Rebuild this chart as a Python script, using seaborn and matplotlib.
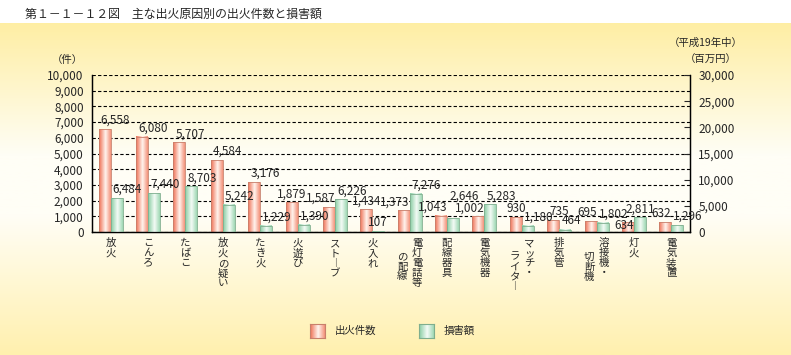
import numpy as np
import pandas as pd
import matplotlib
matplotlib.use('Agg')
import matplotlib.pyplot as plt
from matplotlib.colors import LinearSegmentedColormap
import seaborn as sns

sns.set_style('white')
plt.rcParams['font.family'] = ['Noto Sans CJK JP', 'DejaVu Sans']
plt.rcParams['axes.unicode_minus'] = False

# ---- データ ----
causes = ['放火', 'こんろ', 'たばこ', '放火の疑い', 'たき火', '火遊び', 'ストーブ', '火入れ',
          '電灯電話等の配線', '配線器具', '電気機器', 'マッチ・ライター', '排気管',
          '溶接機・切断機', '灯火', '電気装置']
counts = [6558, 6080, 5707, 4584, 3176, 1879, 1587, 1434, 1373, 1043, 1002, 930, 735, 695, 634, 632]
damages = [6484, 7440, 8703, 5242, 1229, 1390, 6226, 107, 7276, 2646, 5283, 1180, 464, 1802, 2811, 1296]
series_order = ['出火件数', '損害額']
left_ticks = list(range(0, 10001, 1000))
right_ticks = list(range(0, 30001, 5000))

# ラベル配置（見た目の調整用）
count_align = ['left'] * 16
for i in [5, 7, 11]:
    count_align[i] = 'center'
for i in [6, 8, 9, 10, 13, 14, 15]:
    count_align[i] = 'right'
damage_align = ['left'] * 16
for i in [7, 14]:
    damage_align[i] = 'center'
count_dy = [1.5] * 16
count_dy[14] = -7
damage_dy = [1.5] * 16
damage_dy[9] = 11
wrap_at = {'電灯電話等の配線': 5, 'マッチ・ライター': 4, '溶接機・切断機': 4}

df_count = pd.DataFrame({'原因': causes, '系列': series_order[0], '値': counts})
df_damage = pd.DataFrame({'原因': causes, '系列': series_order[1], '値': damages})

orange_cmap = LinearSegmentedColormap.from_list(
    'o', [(0, '#ef7054'), (0.55, '#fff4ee'), (1, '#f4927a')])
green_cmap = LinearSegmentedColormap.from_list(
    'g', [(0, '#88cda2'), (0.55, '#f4fbf6'), (1, '#a0d8b4')])
bg_cmap = LinearSegmentedColormap.from_list(
    'bg', [(0, '#fff0ae'), (0.42, '#fffef6'), (0.6, '#fffef6'), (1, '#feeea4')])

fig = plt.figure(figsize=(7.91, 3.55), dpi=100)
fig.patch.set_facecolor('white')

# 背景グラデーション
bg = fig.add_axes([0, 0, 1, 1], zorder=-10)
bg.imshow(np.linspace(0, 1, 256).reshape(-1, 1), cmap=bg_cmap, origin='lower',
          extent=(0, 1, 0, 332 / 355), aspect='auto')
bg.set_xlim(0, 1)
bg.set_ylim(0, 1)
bg.axis('off')

ax = fig.add_axes([92 / 791, 123 / 355, 598 / 791, 157 / 355])
ax.patch.set_alpha(0)

sns.barplot(data=df_count, x='原因', y='値', hue='系列', hue_order=series_order,
            order=causes, palette=['#f0785a', '#8ccfa6'], width=0.64, gap=0,
            dodge=True, errorbar=None, legend=False, ax=ax)
ax2 = ax.twinx()
sns.barplot(data=df_damage, x='原因', y='値', hue='系列', hue_order=series_order,
            order=causes, palette=['#f0785a', '#8ccfa6'], width=0.64, gap=0,
            dodge=True, errorbar=None, legend=False, ax=ax2)


def shade(a, cmap, edge):
    grad = np.linspace(0, 1, 64).reshape(1, -1)
    for p in list(a.patches):
        x0, w, h = p.get_x(), p.get_width(), p.get_height()
        if not np.isfinite(h) or h == 0:
            continue
        a.imshow(grad, cmap=cmap, extent=(x0, x0 + w, 0, h), aspect='auto',
                 interpolation='bilinear', zorder=2)
        p.set_facecolor('none')
        p.set_edgecolor(edge)
        p.set_linewidth(0.6)
        p.set_zorder(3)


shade(ax, orange_cmap, '#c8806c')
shade(ax2, green_cmap, '#7fae8e')

ax.set_xlim(-0.5, len(causes) - 0.5)
ax2.set_xlim(-0.5, len(causes) - 0.5)
ax.set_ylim(0, 10000)
ax2.set_ylim(0, 30000)

ax.set_yticks(left_ticks)
ax.set_yticklabels([f'{v:,}' for v in left_ticks], fontsize=8.5)
ax2.set_yticks(right_ticks)
ax2.set_yticklabels([f'{v:,}' for v in right_ticks], fontsize=8.5)
ax.tick_params(axis='y', length=0, pad=6)
ax2.tick_params(axis='y', direction='in', length=4, pad=6, width=0.8)

ax.set_xticks(range(len(causes)))
ax.set_xticklabels([''] * len(causes))
ax.set_xticks(np.arange(-0.5, len(causes), 1), minor=True)
ax.tick_params(axis='x', which='major', length=0)
ax.tick_params(axis='x', which='minor', direction='in', length=4, width=0.8)

ax.set_axisbelow(True)
ax.yaxis.grid(True, linestyle=(0, (3, 2)), color='black', linewidth=0.8)
ax.xaxis.grid(False)
for a in (ax, ax2):
    a.set_xlabel('')
    a.set_ylabel('')
    a.spines['top'].set_visible(False)
    for s in ('left', 'right', 'bottom'):
        a.spines[s].set_color('black')
        a.spines[s].set_linewidth(0.9)


def anchor_x(p, al):
    return {'left': p.get_x(), 'right': p.get_x() + p.get_width(),
            'center': p.get_x() + p.get_width() / 2}[al]


nudge = {'left': 1.5, 'right': 0, 'center': 0}

# 数値ラベル（すべて前面の ax2 に描く）
n = len(causes)
count_bars = sorted(ax.patches, key=lambda p: p.get_x())[:n]
damage_bars = sorted(ax2.patches, key=lambda p: p.get_x())[:n]
for i, p in enumerate(count_bars):
    al = count_align[i]
    ax2.annotate(f'{counts[i]:,}', xy=(anchor_x(p, al), p.get_height()),
                 xycoords=ax.transData, xytext=(nudge[al], count_dy[i]),
                 textcoords='offset points', ha=al, va='bottom', fontsize=8.5, zorder=10)
for i, p in enumerate(damage_bars):
    al = damage_align[i]
    ax2.annotate(f'{damages[i]:,}', xy=(anchor_x(p, al), p.get_height()),
                 xycoords=ax2.transData, xytext=(nudge[al], damage_dy[i]),
                 textcoords='offset points', ha=al, va='bottom', fontsize=8.5, zorder=10)


# 縦書きの項目名
def vertical(s):
    return '\n'.join('︱' if c == 'ー' else c for c in s)


for i, name in enumerate(causes):
    if name in wrap_at:
        k = wrap_at[name]
        cols = [(name[:k], 0.2, 0), (name[k:], -0.2, -9.5)]
    else:
        cols = [(name, 0, 0)]
    for txt, dx, extra in cols:
        ax.annotate(vertical(txt), xy=(i + dx, 0), xycoords=('data', 'axes fraction'),
                    xytext=(0, -4.5 + extra), textcoords='offset points',
                    ha='center', va='top', fontsize=7.5, linespacing=1.0,
                    annotation_clip=False)

# タイトル・単位
fig.text(25 / 791, 1 - 14 / 355, '第１－１－１２図　主な出火原因別の出火件数と損害額',
         fontsize=8.6, va='center', ha='left')
fig.text(67 / 791, 1 - 60 / 355, '（件）', fontsize=7.5, va='center', ha='center')
fig.text(706 / 791, 1 - 43 / 355, '（平成19年中）', fontsize=7.5, va='center', ha='center')
fig.text(711 / 791, 1 - 60 / 355, '（百万円）', fontsize=7.5, va='center', ha='center')

# 凡例
legend_items = [(series_order[0], orange_cmap, '#c8806c', 310),
                (series_order[1], green_cmap, '#7fae8e', 419)]
for label, cmap, edge, x0 in legend_items:
    sw = fig.add_axes([x0 / 791, (355 - 338) / 355, 15 / 791, 14 / 355])
    sw.imshow(np.linspace(0, 1, 64).reshape(1, -1), cmap=cmap, aspect='auto')
    sw.set_xticks([])
    sw.set_yticks([])
    for s in sw.spines.values():
        s.set_color(edge)
        s.set_linewidth(0.8)
    fig.text((x0 + 25) / 791, 1 - 331 / 355, label, fontsize=7.5, va='center', ha='left')

fig.savefig('out.png', dpi=100)
